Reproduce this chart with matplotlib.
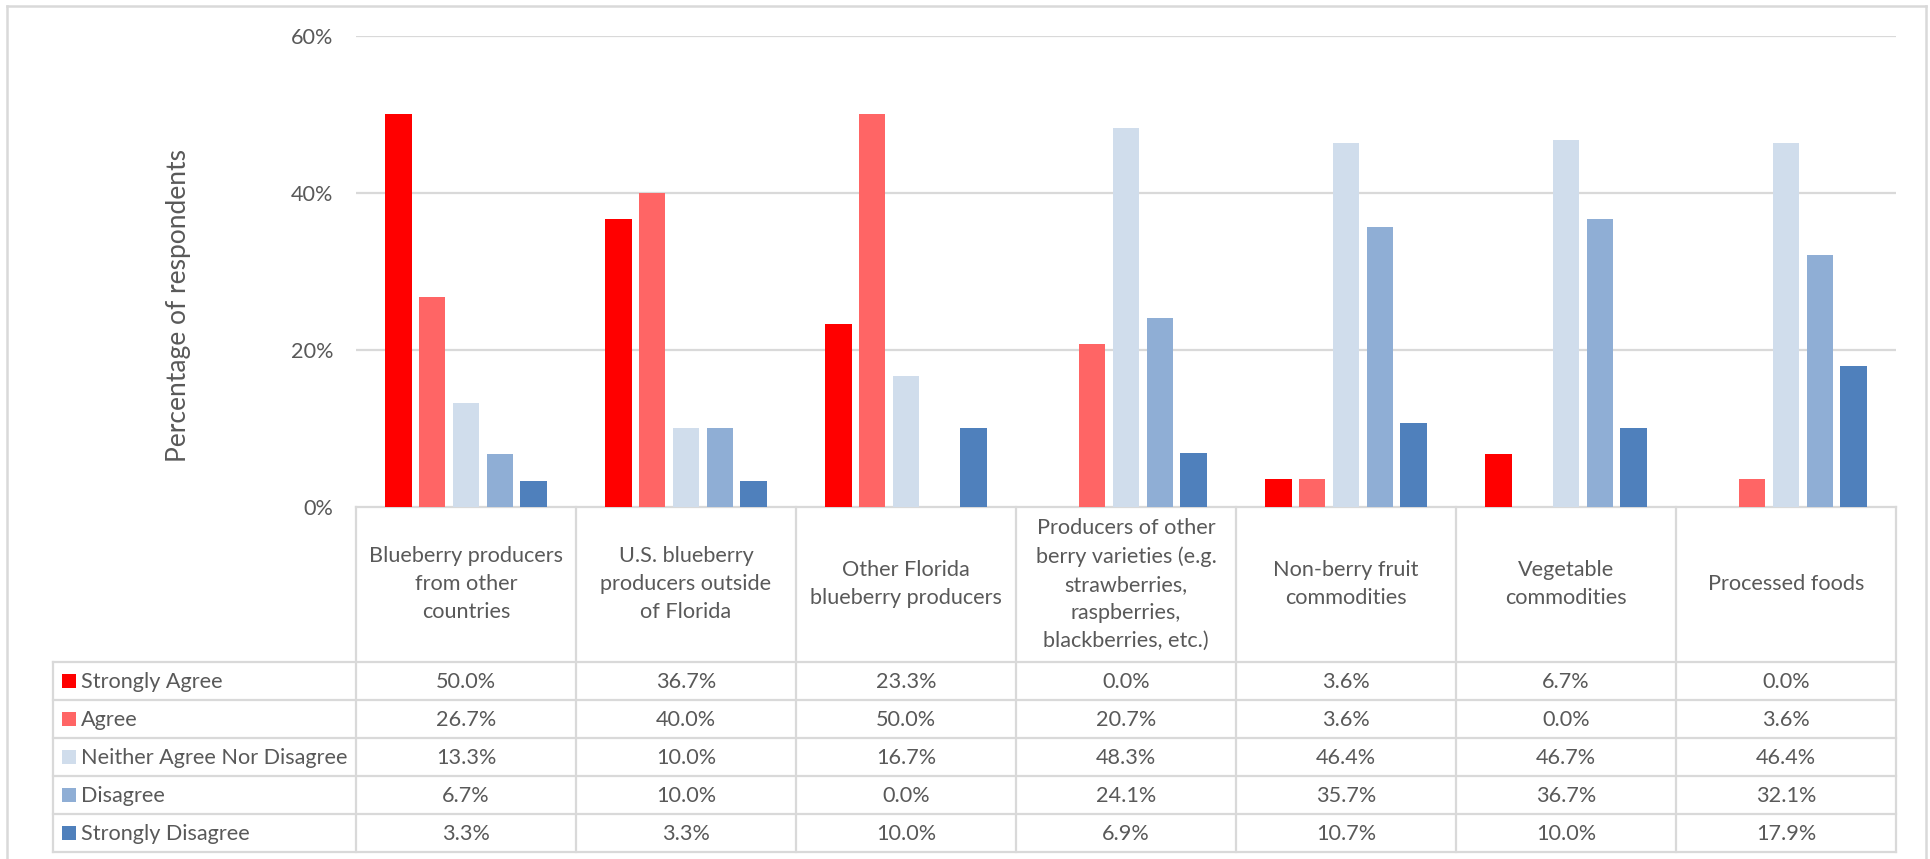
import matplotlib
matplotlib.use("Agg")
import matplotlib.pyplot as plt
import numpy as np

plt.rcParams['font.family'] = ['Lato', 'DejaVu Sans']

# ---- data -------------------------------------------------------------
categories = [
    "Blueberry producers\nfrom other\ncountries",
    "U.S. blueberry\nproducers outside\nof Florida",
    "Other Florida\nblueberry producers",
    "Producers of other\nberry varieties (e.g.\nstrawberries,\nraspberries,\nblackberries, etc.)",
    "Non-berry fruit\ncommodities",
    "Vegetable\ncommodities",
    "Processed foods",
]
series_names = [
    "Strongly Agree",
    "Agree",
    "Neither Agree Nor Disagree",
    "Disagree",
    "Strongly Disagree",
]
strongly_agree = [50.0, 36.7, 23.3, 0.0, 3.6, 6.7, 0.0]
agree = [26.7, 40.0, 50.0, 20.7, 3.6, 0.0, 3.6]
neither = [13.3, 10.0, 16.7, 48.3, 46.4, 46.7, 46.4]
disagree = [6.7, 10.0, 0.0, 24.1, 35.7, 36.7, 32.1]
strongly_disagree = [3.3, 3.3, 10.0, 6.9, 10.7, 10.0, 17.9]
y_ticks = [0, 20, 40, 60]
y_label = "Percentage of respondents"

series_values = [strongly_agree, agree, neither, disagree, strongly_disagree]
colors = ["#FF0000", "#FF6565", "#D0DDEC", "#8FAED5", "#4F80BC"]

# ---- layout (pixels) --------------------------------------------------
W, H = 1931, 859
DPI = 100
grid_col = "#D9D9D9"
text_col = "#595959"
fs = 15.6

plot_left, plot_right = 356, 1896
plot_top, plot_bottom = 35.7, 507
row_edges = [661.5, 699.5, 737.5, 775.5, 813.5, 851.5]
table_left = 53

fig = plt.figure(figsize=(W / DPI, H / DPI), dpi=DPI)
fig.patch.set_facecolor("white")

# overlay in pixel coordinates for the frame and the data table
ov = fig.add_axes([0, 0, 1, 1])
ov.set_xlim(0, W)
ov.set_ylim(H, 0)
ov.axis("off")

# bar chart area
ax = fig.add_axes([plot_left / W, 1 - plot_bottom / H,
                   (plot_right - plot_left) / W, (plot_bottom - plot_top) / H])
n_cat = len(categories)
x = np.arange(n_cat)
bar_w = 0.12
step = 0.1535
for i, (vals, col) in enumerate(zip(series_values, colors)):
    ax.bar(x + (i - 2) * step, vals, width=bar_w, color=col,
           edgecolor="none", zorder=3)

ax.set_xlim(-0.5, n_cat - 0.5)
ax.set_ylim(0, 60)
ax.set_yticks(y_ticks)
ax.set_yticklabels([f"{t}%" for t in y_ticks])
ax.tick_params(axis="y", length=0, pad=16.5, labelsize=fs, labelcolor=text_col)
ax.set_xticks([])
for t in y_ticks[1:]:
    ax.axhline(t, color=grid_col, lw=1.6, zorder=1)
for s in ax.spines.values():
    s.set_visible(False)
ax.patch.set_alpha(0)

fig.text(179 / W, 1 - 305 / H, y_label, rotation=90, ha="center", va="center",
         fontsize=19, color=text_col)

# outer chart frame
ov.plot([7, 7], [6, H + 5], color=grid_col, lw=1.8, clip_on=False)
ov.plot([7, 1926], [6, 6], color=grid_col, lw=1.8)
ov.plot([1926, 1926], [6, H + 5], color=grid_col, lw=1.8, clip_on=False)

# data table grid
cell_w = (plot_right - plot_left) / n_cat
ov.plot([plot_left, plot_right], [plot_bottom, plot_bottom], color=grid_col, lw=1.6)
for y in row_edges:
    ov.plot([table_left, plot_right], [y, y], color=grid_col, lw=1.6)
for k in range(n_cat + 1):
    xx = plot_left + k * cell_w
    ov.plot([xx, xx], [plot_bottom, row_edges[-1]], color=grid_col, lw=1.6)
ov.plot([table_left, table_left], [row_edges[0], row_edges[-1]],
        color=grid_col, lw=1.6)

# category header cells
for k, cat in enumerate(categories):
    cx = plot_left + (k + 0.5) * cell_w
    ov.text(cx, (plot_bottom + row_edges[0]) / 2, cat, ha="center", va="center",
            fontsize=fs, color=text_col, linespacing=1.5)

# legend keys and values
for r, (name, vals, col) in enumerate(zip(series_names, series_values, colors)):
    cy = (row_edges[r] + row_edges[r + 1]) / 2
    ov.add_patch(plt.Rectangle((62, cy - 7), 14, 14, color=col, lw=0))
    ov.text(81, cy, name, ha="left", va="center_baseline", fontsize=fs,
            color=text_col)
    for k, v in enumerate(vals):
        cx = plot_left + (k + 0.5) * cell_w
        ov.text(cx, cy, f"{v:.1f}%", ha="center", va="center_baseline",
                fontsize=fs, color=text_col)

fig.savefig("out.png", dpi=DPI, facecolor="white")
